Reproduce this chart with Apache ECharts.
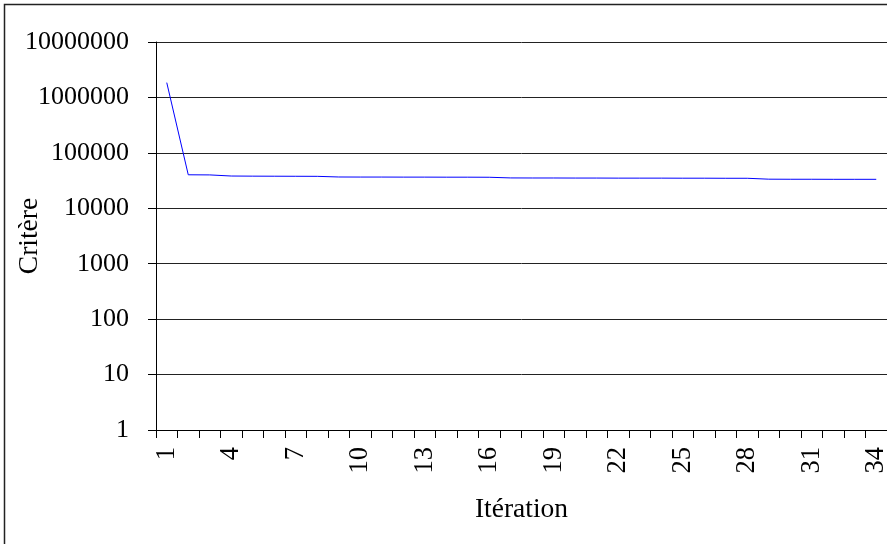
<!DOCTYPE html>
<html>
<head>
<meta charset="utf-8">
<script src="https://cdn.jsdelivr.net/npm/echarts@6/dist/echarts.min.js"></script>
<style>html,body{margin:0;padding:0;background:#fff}#c{width:887px;height:544px}</style>
</head>
<body>
<div id="c"></div>
<script>
const iterations = Array.from({length: 34}, (_, i) => String(i + 1));
const critere = [1850000, 40200, 40000, 38200, 38000, 37900, 37800, 37700,
  36700, 36600, 36600, 36500, 36500, 36400, 36400, 36300,
  35300, 35200, 35200, 35100, 35100, 35000, 35000, 35000, 34900, 34900, 34800, 34800,
  33500, 33400, 33400, 33300, 33300, 33300];
const yMin = 1, yMax = 10000000;
const xTitle = 'Itération', yTitle = 'Critère';

const font = '"Liberation Serif", "Times New Roman", serif';
const chart = echarts.init(document.getElementById('c'), null, {renderer: 'canvas'});
chart.setOption({
  animation: false,
  backgroundColor: '#fff',
  graphic: [{
    type: 'rect', shape: {x: 4.5, y: 4.5, width: 950, height: 600},
    style: {fill: 'none', stroke: '#222', lineWidth: 1.5}, z: 100
  }],
  grid: {left: 156, top: 42, width: 731, height: 388, outerBoundsMode: 'none', containLabel: false},
  xAxis: {
    type: 'category', data: iterations, boundaryGap: true,
    name: xTitle, nameLocation: 'middle', nameGap: 66, nameMoveOverlap: false,
    nameTextStyle: {fontFamily: font, fontSize: 27.5, color: '#000'},
    axisLine: {lineStyle: {color: '#000', width: 1}},
    axisTick: {show: true, interval: 0, length: 8, lineStyle: {color: '#000'}},
    axisLabel: {interval: 2, rotate: 90, margin: 17, fontFamily: font, fontSize: 26.5, color: '#000',
      hideOverlap: false, showMinLabel: true, showMaxLabel: true},
    splitLine: {show: false}
  },
  yAxis: {
    type: 'log', logBase: 10, min: yMin, max: yMax,
    name: yTitle, nameLocation: 'middle', nameGap: 112, nameRotate: 90, nameMoveOverlap: false,
    nameTextStyle: {fontFamily: font, fontSize: 27.5, color: '#000'},
    axisLine: {show: true, lineStyle: {color: '#000', width: 1}},
    axisTick: {show: true, length: 8, lineStyle: {color: '#000'}},
    axisLabel: {margin: 27, fontFamily: font, fontSize: 26, color: '#000',
      formatter: v => String(Math.round(v))},
    splitLine: {show: true, lineStyle: {color: '#222', width: 1}},
    minorTick: {show: false}
  },
  series: [{
    type: 'line', data: critere, showSymbol: false, symbol: 'none',
    lineStyle: {color: '#0000ff', width: 1}
  }]
});
</script>
</body>
</html>
